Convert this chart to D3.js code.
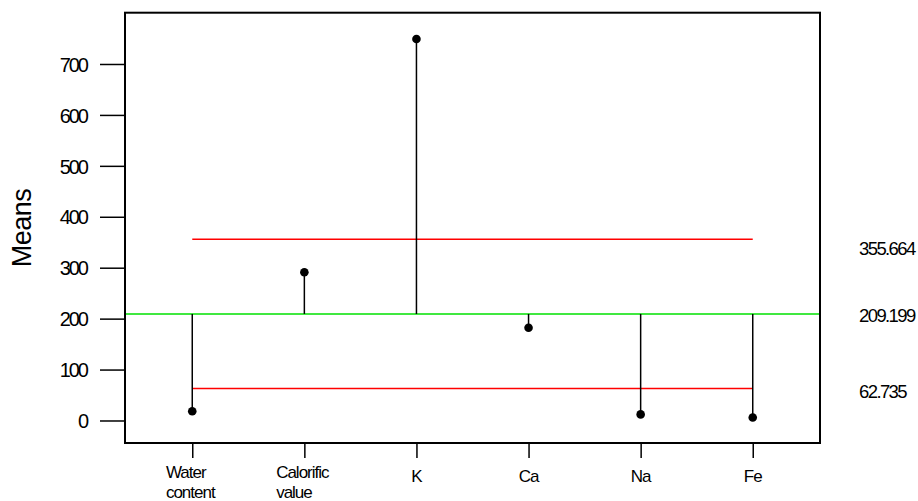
<!DOCTYPE html>
<html>
<head>
<meta charset="utf-8">
<script src="https://cdn.jsdelivr.net/npm/d3@7"></script>
<style>
  body { margin: 0; background: #fff; }
  text { font-family: "Liberation Sans", Arial, sans-serif; fill: #000; }
</style>
</head>
<body>
<script>
// chart data
var categories = [["Water", "content"], ["Calorific", "value"], ["K"], ["Ca"], ["Na"], ["Fe"]];
var means = [18, 291, 749, 182, 12, 6];
var centerLine = 209.199;
var lowerLimit = 62.735;
var upperLimit = 355.664;
var yTicks = [0, 100, 200, 300, 400, 500, 600, 700];

var width = 918, height = 501;
var box = { left: 125, right: 820, top: 12.7, bottom: 443 };

var svg = d3.select("body").append("svg")
    .attr("width", width)
    .attr("height", height);

var names = categories.map(function(c) { return c.join(" "); });

var x = d3.scalePoint()
    .domain(names)
    .range([box.left, box.right])
    .padding(0.6);

var y = d3.scaleLinear()
    .domain([-44.2, 800.7])
    .range([box.bottom, box.top]);

// y axis ticks
var yAxis = svg.append("g")
    .attr("transform", "translate(" + box.left + ",0)")
    .call(d3.axisLeft(y).tickValues(yTicks).tickSize(25).tickPadding(13).tickFormat(d3.format("d")));
yAxis.select(".domain").remove();
yAxis.selectAll("line").attr("stroke", "#000").attr("stroke-width", 1.5);
yAxis.selectAll("text")
    .attr("font-size", "20px")
    .attr("font-family", "Liberation Sans, Arial, sans-serif")
    .style("letter-spacing", "-2px")
    .attr("dy", "0.36em");

// x axis ticks
var xAxis = svg.append("g")
    .attr("transform", "translate(0," + box.bottom + ")")
    .call(d3.axisBottom(x).tickSize(15).tickFormat(""));
xAxis.select(".domain").remove();
xAxis.selectAll("line").attr("stroke", "#000").attr("stroke-width", 1.5);

// x labels, multi-line ones left aligned in a block centered on the tick
categories.forEach(function(lines, i) {
    var cx = x(names[i]);
    var g = svg.append("g");
    var texts = lines.map(function(l, j) {
        return g.append("text")
            .attr("font-size", "17px")
            .style("letter-spacing", "-1px")
            .attr("y", lines.length > 1 ? 478 + j * 20 : 482)
            .text(l);
    });
    if (lines.length > 1) {
        var w = d3.max(texts, function(t) { return t.node().getComputedTextLength(); });
        texts.forEach(function(t) { t.attr("x", cx - w / 2 - 2); });
    } else {
        texts[0].attr("x", cx).attr("text-anchor", "middle");
    }
});

// limit lines
svg.append("line")
    .attr("x1", box.left).attr("x2", box.right)
    .attr("y1", y(centerLine)).attr("y2", y(centerLine))
    .attr("stroke", "#00e000").attr("stroke-width", 1.5);

[upperLimit, lowerLimit].forEach(function(v) {
    svg.append("line")
        .attr("x1", x(names[0])).attr("x2", x(names[names.length - 1]))
        .attr("y1", y(v)).attr("y2", y(v))
        .attr("stroke", "#ff0000").attr("stroke-width", 1.5);
});

// stems and dots
svg.selectAll("line.stem")
    .data(means)
    .enter()
    .append("line")
    .attr("class", "stem")
    .attr("x1", function(d, i) { return x(names[i]); })
    .attr("x2", function(d, i) { return x(names[i]); })
    .attr("y1", y(centerLine))
    .attr("y2", function(d) { return y(d); })
    .attr("stroke", "#000")
    .attr("stroke-width", 1.5);

svg.selectAll("circle")
    .data(means)
    .enter()
    .append("circle")
    .attr("cx", function(d, i) { return x(names[i]); })
    .attr("cy", function(d) { return y(d); })
    .attr("r", 4.3)
    .attr("fill", "#000");

// frame
svg.append("rect")
    .attr("x", box.left).attr("y", box.top)
    .attr("width", box.right - box.left)
    .attr("height", box.bottom - box.top)
    .attr("fill", "none")
    .attr("stroke", "#000")
    .attr("stroke-width", 2);

// limit values on the right
[upperLimit, centerLine, lowerLimit].forEach(function(v, i) {
    svg.append("text")
        .attr("x", 859)
        .attr("y", y(v) + [8.5, 1.5, 3][i])
        .attr("dy", "0.36em")
        .attr("font-size", "18.5px")
        .style("letter-spacing", "-1.6px")
        .text(d3.format(".3f")(v));
});

// y title
svg.append("text")
    .attr("transform", "translate(31,228) rotate(-90)")
    .attr("text-anchor", "middle")
    .attr("font-size", "27px")
    .style("letter-spacing", "-0.5px")
    .text("Means");
</script>
</body>
</html>
